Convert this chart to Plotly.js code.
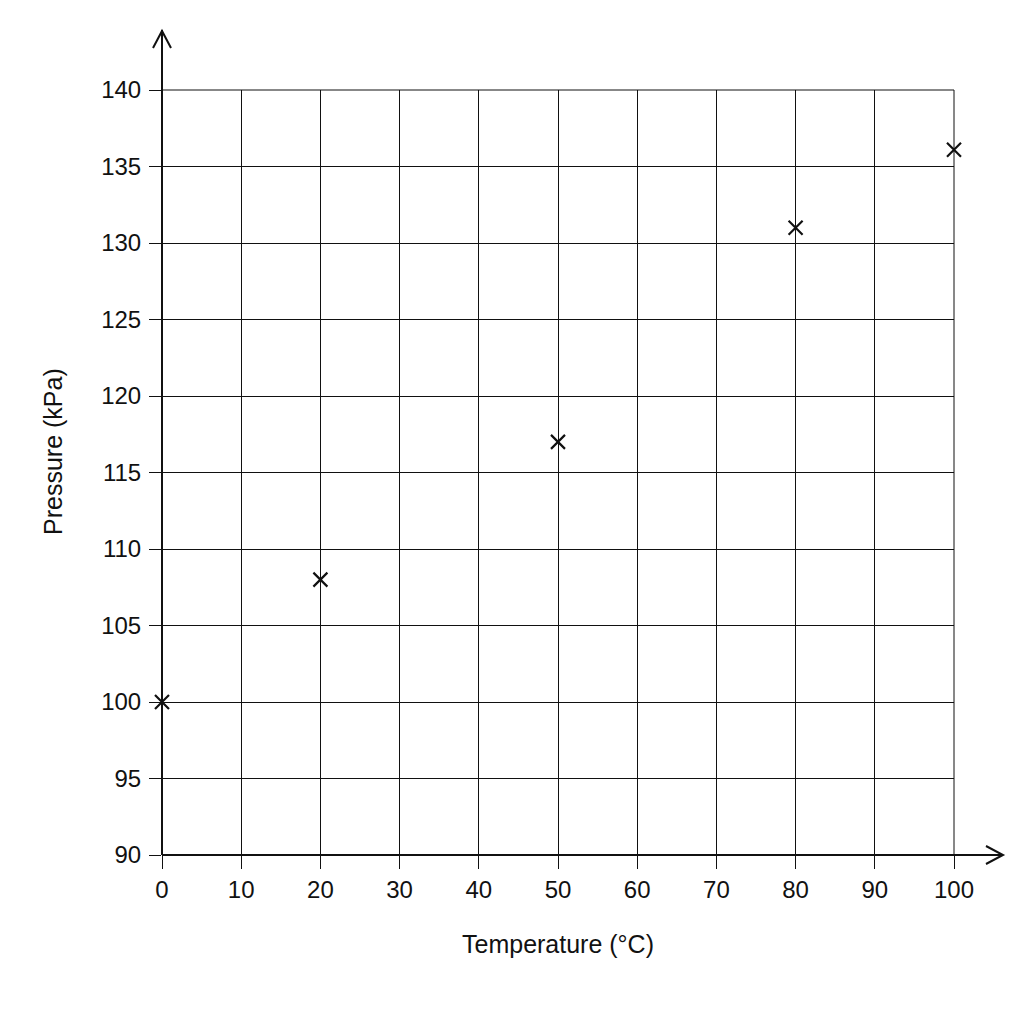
<!DOCTYPE html>
<html>
<head>
<meta charset="utf-8">
<script src="https://cdn.plot.ly/plotly-3.0.1.min.js"></script>
<style>
  html, body { margin: 0; padding: 0; background: #fff; }
  #chart { width: 1024px; height: 1024px; }
</style>
</head>
<body>
<div id="chart"></div>
<script>
// readings
const temperature = [0, 20, 50, 80, 100];
const pressure = [100, 108, 117, 131, 136.1];

const xTicks = [0, 10, 20, 30, 40, 50, 60, 70, 80, 90, 100];
const yTicks = [90, 95, 100, 105, 110, 115, 120, 125, 130, 135, 140];

const ink = '#111';
const font = 'Liberation Sans, Arial, sans-serif';

// pixel helpers (plot area 162..954 x 90..855)
const W = 792, H = 765;
function px(x) { return (x - 162) / W; }
function py(y) { return (855 - y) / H; }

let trace = {
    type: 'scatter',
    mode: 'markers',
    x: temperature,
    y: pressure,
    marker: {
        symbol: 'x-thin',
        size: 14,
        color: ink,
        line: { color: ink, width: 2.2 }
    },
    cliponaxis: false,
    hoverinfo: 'skip'
};

let layout = {
    width: 1024,
    height: 1024,
    paper_bgcolor: '#fff',
    plot_bgcolor: '#fff',
    showlegend: false,
    margin: { l: 162, r: 70, t: 90, b: 169 },
    font: { family: font, size: 22, color: ink },
    xaxis: {
        range: [0, 100],
        tickvals: xTicks,
        ticks: 'outside',
        ticklen: 13,
        tickwidth: 1,
        tickcolor: ink,
        showgrid: true,
        gridcolor: ink,
        gridwidth: 1,
        zeroline: false,
        showline: false,
        tickfont: { family: font, size: 24, color: ink },
        title: {
            text: 'Temperature (°C)',
            font: { family: font, size: 25, color: ink },
            standoff: 33
        }
    },
    yaxis: {
        range: [90, 140],
        tickvals: yTicks,
        ticks: 'outside',
        ticklen: 12,
        tickwidth: 1,
        tickcolor: ink,
        ticklabelstandoff: 3,
        showgrid: true,
        gridcolor: ink,
        gridwidth: 1,
        zeroline: false,
        showline: false,
        tickfont: { family: font, size: 24, color: ink }
    },
    annotations: [
        { text: 'Pressure (kPa)', xref: 'paper', yref: 'paper',
          x: px(53), y: py(452), xanchor: 'center', yanchor: 'middle',
          textangle: -90, showarrow: false,
          font: { family: font, size: 25, color: ink } }
    ],
    shapes: [
        // top and right grid borders
        { type: 'line', xref: 'paper', yref: 'paper', x0: 0, x1: 1, y0: 1, y1: 1,
          line: { color: ink, width: 1 } },
        { type: 'line', xref: 'paper', yref: 'paper', x0: 1, x1: 1, y0: 0, y1: 1,
          line: { color: ink, width: 1 } },
        // y axis with arrow
        { type: 'line', xref: 'paper', yref: 'paper', x0: 0, x1: 0, y0: 0, y1: py(30),
          line: { color: ink, width: 2 } },
        { type: 'path', xref: 'paper', yref: 'paper',
          path: `M ${px(153)} ${py(48)} L ${px(162)} ${py(31)} L ${px(171)} ${py(48)}`,
          line: { color: ink, width: 2 } },
        // x axis with arrow
        { type: 'line', xref: 'paper', yref: 'paper', x0: 0, x1: px(1003), y0: 0, y1: 0,
          line: { color: ink, width: 2 } },
        { type: 'path', xref: 'paper', yref: 'paper',
          path: `M ${px(986)} ${py(846)} L ${px(1003)} ${py(855)} L ${px(986)} ${py(864)}`,
          line: { color: ink, width: 2 } }
    ]
};

Plotly.newPlot('chart', [trace], layout, { staticPlot: true });
</script>
</body>
</html>
